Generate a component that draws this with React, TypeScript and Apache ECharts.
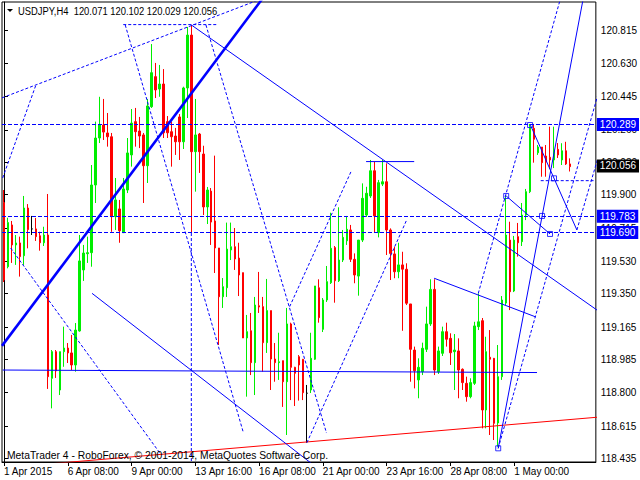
import React, { useEffect, useRef } from "react";
import * as echarts from "echarts";

const symbolName = "USDJPY,H4";
const copyright = "MetaTrader 4 - RoboForex, © 2001-2014, MetaQuotes Software Corp.";

const opens = [
  119.856, 119.5, 119.732, 119.621, 119.632, 119.561, 119.826, 119.71, 119.71, 119.672,
  119.633, 119.676, 118.88, 119.028, 118.815, 119.028, 119.048, 119.021, 118.954, 119.143,
  119.482, 119.572, 119.578, 119.954, 120.215, 120.287, 120.243, 120.222, 119.778, 119.821,
  119.689, 119.926, 120.121, 120.306, 120.254, 120.232, 120.061, 120.389, 120.556, 120.487,
  120.515, 120.306, 120.25, 120.226, 120.332, 120.194, 120.493, 120.787, 120.139, 120.237,
  120.126, 119.832, 119.92, 119.754, 119.604, 119.333, 119.383, 119.593, 119.611, 119.548,
  119.467, 119.104, 119.144, 118.967, 119.283, 119.278, 119.078, 119.256, 118.987, 118.967,
  118.978, 118.861, 119.182, 118.941, 119.0, 118.986, 118.797, 118.815, 118.986, 119.383,
  119.152, 119.315, 119.411, 119.606, 119.422, 119.537, 119.644, 119.704, 119.541, 119.448,
  119.648, 119.787, 119.893, 120.033, 119.689, 119.959, 119.972, 119.704, 119.571, 119.472,
  119.51, 119.486, 119.293, 119.037, 118.871, 118.917, 119.041, 119.182, 119.374, 118.917,
  119.019, 119.139, 119.102, 119.028, 119.032, 118.93, 118.852, 118.778, 118.852, 119.167,
  119.2, 118.704, 118.997, 118.991, 118.632, 118.889, 119.298, 119.648, 119.365, 119.667,
  119.639, 119.787, 119.917, 120.269, 120.133, 120.165, 120.115, 120.108, 120.093, 120.152,
  120.093, 120.144, 120.071,
];
const highs = [
  119.926, 119.772, 119.754, 119.676, 119.667, 119.893, 119.848, 119.782, 119.771, 119.694,
  119.722, 119.904, 119.037, 119.037, 119.028, 119.167, 119.076, 119.121, 119.187, 119.676,
  119.621, 119.667, 120.065, 120.306, 120.444, 120.432, 120.354, 120.243, 119.993, 119.871,
  119.993, 120.215, 120.376, 120.382, 120.332, 120.243, 120.432, 120.737, 120.632, 120.621,
  120.598, 120.337, 120.306, 120.271, 120.348, 120.5, 120.832, 120.843, 120.432, 120.243,
  120.172, 119.943, 119.937, 120.117, 119.604, 119.437, 119.745, 119.745, 119.715, 119.633,
  119.467, 119.232, 119.243, 119.332, 119.471, 119.332, 119.432, 119.256, 119.076, 119.133,
  118.978, 119.271, 119.189, 118.944, 119.009, 118.986, 118.843, 119.133, 119.393, 119.43,
  119.326, 119.504, 119.8, 119.615, 119.83, 119.704, 119.782, 119.732, 119.574, 119.648,
  119.963, 119.944, 120.093, 120.083, 119.982, 120.093, 120.074, 119.713, 119.611, 119.633,
  119.583, 119.519, 119.293, 119.056, 118.991, 119.078, 119.278, 119.43, 119.43, 119.056,
  119.167, 119.189, 119.13, 119.126, 119.102, 118.935, 118.889, 118.88, 119.194, 119.352,
  119.215, 119.111, 119.148, 118.993, 119.065, 119.337, 119.893, 119.75, 119.671, 119.743,
  119.854, 119.932, 120.293, 120.293, 120.176, 120.165, 120.176, 120.278, 120.278, 120.187,
  120.186, 120.194, 120.102,
];
const lows = [
  119.415, 119.491, 119.521, 119.51, 119.445, 119.51, 119.602, 119.676, 119.643, 119.589,
  119.615, 118.821, 118.713, 118.882, 118.787, 118.944, 118.965, 118.926, 118.917, 119.139,
  119.421, 119.521, 119.5, 119.854, 120.187, 120.204, 120.167, 119.694, 119.704, 119.633,
  119.689, 119.909, 120.056, 120.167, 120.159, 119.854, 119.965, 120.382, 120.437, 120.444,
  120.215, 120.215, 120.056, 120.121, 120.093, 120.154, 120.326, 119.687, 119.917, 120.021,
  119.787, 119.737, 119.621, 119.465, 119.065, 119.271, 119.332, 119.537, 119.482, 119.337,
  119.104, 118.778, 118.898, 118.787, 119.243, 118.917, 119.021, 118.815, 118.861, 118.871,
  118.721, 118.565, 118.759, 118.726, 118.756, 118.759, 118.522, 118.798, 118.982, 119.189,
  119.137, 119.304, 119.404, 119.3, 119.415, 119.526, 119.621, 119.526, 119.408, 119.339,
  119.637, 119.776, 119.882, 119.689, 119.663, 119.948, 119.565, 119.426, 119.436, 119.436,
  119.144, 119.287, 118.861, 118.824, 118.769, 118.898, 119.026, 119.171, 118.898, 118.904,
  119.004, 119.056, 118.954, 118.815, 118.769, 118.815, 118.75, 118.769, 118.843, 119.148,
  118.602, 118.602, 118.565, 118.537, 118.5, 118.871, 119.287, 119.259, 119.359, 119.556,
  119.615, 119.759, 119.909, 120.078, 120.121, 120.0, 120.0, 120.043, 120.048, 120.104,
  120.065, 120.065, 120.029,
];
const closes = [
  119.426, 119.745, 119.621, 119.632, 119.556, 119.826, 119.706, 119.71, 119.667, 119.633,
  119.676, 118.889, 119.028, 118.921, 119.028, 119.048, 119.021, 118.954, 119.148, 119.532,
  119.576, 119.578, 119.954, 120.215, 120.287, 120.248, 120.222, 119.778, 119.871, 119.7,
  119.932, 120.132, 120.298, 120.25, 120.226, 120.061, 120.393, 120.578, 120.482, 120.515,
  120.244, 120.244, 120.222, 120.194, 120.194, 120.493, 120.787, 120.139, 120.232, 120.139,
  119.832, 119.926, 119.748, 119.604, 119.333, 119.389, 119.598, 119.611, 119.543, 119.454,
  119.104, 119.139, 118.967, 119.287, 119.276, 119.078, 119.256, 118.987, 118.967, 118.972,
  118.861, 119.182, 118.941, 118.908, 118.954, 118.8, 118.797, 118.991, 119.393, 119.217,
  119.315, 119.417, 119.602, 119.422, 119.537, 119.663, 119.708, 119.541, 119.454, 119.648,
  119.88, 119.908, 120.033, 119.782, 119.967, 119.972, 119.704, 119.574, 119.472, 119.51,
  119.486, 119.297, 119.041, 118.922, 118.941, 119.047, 119.182, 119.374, 118.926, 119.032,
  119.139, 119.097, 119.022, 119.037, 118.926, 118.856, 118.778, 118.856, 119.171, 119.194,
  118.704, 119.028, 118.986, 118.63, 118.889, 119.315, 119.676, 119.361, 119.648, 119.633,
  119.787, 119.917, 120.278, 120.208, 120.165, 120.078, 120.082, 120.093, 120.148, 120.121,
  120.144, 120.071, 120.056,
];

const slotCount = 149;
const xTickIndex = [0, 16, 32, 48, 64, 80, 96, 112, 128];
const xTickText = [
  "1 Apr 2015", "6 Apr 08:00", "9 Apr 00:00", "13 Apr 16:00", "16 Apr 08:00",
  "21 Apr 00:00", "23 Apr 16:00", "28 Apr 08:00", "1 May 00:00",
];
const priceTicks = [
  118.435, 118.615, 118.8, 118.985, 119.165, 119.35, 119.53, 119.715, 119.9,
  120.08, 120.26, 120.445, 120.63, 120.815,
];
const priceMin = 118.415;
const priceMax = 120.9706;
const levelLines = [120.289, 119.783, 119.69];
const lastPrice = 120.056;

// drawing objects: [barIndex, price] pairs
const thickLine = [[-0.5, 119.06], [67, 121.053]];
const solidLines = [
  [[47, 120.843], [149.5, 119.248]],
  [[-0.33, 118.926], [133.74, 118.912]],
  [[22.09, 119.352], [80, 118.358]],
  [[90.85, 120.084], [102.92, 120.084]],
  [[107.92, 119.436], [133.42, 119.221]],
  [[126, 119.893], [137, 119.682]],
  [[132.09, 120.287], [143.74, 119.704]],
  [[124, 118.491], [146, 121.068]],
];
const dashedLines = [
  [[-0.5, 120.438], [66, 121.0]],
  [[-0.33, 119.993], [7.92, 120.504]],
  [[30.42, 120.843], [60, 118.583]],
  [[1.67, 119.604], [39.17, 118.463]],
  [[50.67, 120.843], [80.92, 118.576]],
  [[71.67, 119.278], [87.17, 120.033]],
  [[76, 118.522], [100.92, 119.754]],
  [[29.92, 120.845], [53.42, 120.845]],
  [[119, 119.352], [141, 121.099]],
  [[124, 118.491], [149.5, 120.494]],
  [[143.74, 119.704], [149.5, 120.141]],
  [[134.67, 119.978], [147.92, 119.978]],
  [[47, 119.687], [47, 118.3]],
];
const redLine = [[10, 118.402], [149.5, 118.665]];
const anchors = [
  [124, 118.491], [126, 119.893], [132, 120.287], [135, 119.782], [137, 119.682], [138, 119.991],
];

const FONT = "'Liberation Sans', Arial, sans-serif";
const AXIS_FONT_SIZE = 10;
const BLUE = "#0000ff";
const UP = "#00ee00";
const DOWN = "#ff0000";

function buildOption() {
  const categories = Array.from({ length: slotCount }, (_, i) => String(i));
  const candleData: any[] = opens.map((o, i) => {
    const c = closes[i];
    const item: any = { value: [o, c, lows[i], highs[i]] };
    if (o === c) {
      item.itemStyle = { color: "#000", color0: "#000", borderColor: "#000", borderColor0: "#000" };
    }
    return item;
  });
  const last = opens.length - 1;
  const title = `${symbolName}  ${opens[last].toFixed(3)} ${highs[last].toFixed(3)} ${lows[last].toFixed(3)} ${closes[last].toFixed(3)}`;

  const lineSeries = (data: number[][], color: string, width: number, type: any) => ({
    type: "line",
    xAxisIndex: 1,
    yAxisIndex: 0,
    data,
    symbol: "none",
    silent: true,
    clip: true,
    z: 3,
    lineStyle: { color, width, type },
  });

  const boxLabel = (v: number, bg: string) => ({
    show: true,
    position: "end",
    distance: 1,
    formatter: v.toFixed(3),
    backgroundColor: bg,
    color: "#fff",
    fontFamily: FONT,
    fontSize: AXIS_FONT_SIZE,
    lineHeight: 11,
    padding: [1, 3, 1, 3],
  });

  const series: any[] = [
    {
      type: "candlestick",
      xAxisIndex: 0,
      yAxisIndex: 0,
      data: candleData,
      barWidth: 2,
      silent: true,
      z: 2,
      itemStyle: {
        color: UP,
        color0: DOWN,
        borderColor: UP,
        borderColor0: DOWN,
        borderWidth: 1,
      },
    },
    lineSeries(redLine, "#ff0000", 1, "solid"),
    ...dashedLines.map((d) => lineSeries(d, BLUE, 1, [3, 2])),
    ...solidLines.map((d) => lineSeries(d, BLUE, 1, "solid")),
    lineSeries(thickLine, BLUE, 2.6, "solid"),
    {
      type: "scatter",
      xAxisIndex: 1,
      yAxisIndex: 0,
      data: anchors,
      symbol: "rect",
      symbolSize: 5,
      silent: true,
      z: 4,
      itemStyle: { color: "rgba(255,255,255,0)", borderColor: BLUE, borderWidth: 1 },
    },
    {
      type: "line",
      xAxisIndex: 1,
      yAxisIndex: 0,
      data: [],
      clip: false,
      z: 5,
      markLine: {
        symbol: "none",
        silent: true,
        animation: false,
        data: [
          ...levelLines.map((v) => ({
            yAxis: v,
            lineStyle: { color: BLUE, width: 1, type: [4, 2] },
            label: boxLabel(v, BLUE),
          })),
          {
            yAxis: lastPrice,
            lineStyle: { color: "rgba(0,0,0,0)", width: 1, type: "solid" },
            label: boxLabel(lastPrice, "#000"),
          },
        ],
      },
    },
  ];

  const isTick = (i: number) => xTickIndex.indexOf(i) >= 0;

  return {
    animation: false,
    backgroundColor: "#fff",
    grid: {
      left: 2,
      right: 43,
      top: 2,
      bottom: 18,
      show: true,
      borderColor: "#000",
      borderWidth: 1,
      backgroundColor: "#fff",
    },
    xAxis: [
      {
        type: "category",
        data: categories,
        boundaryGap: true,
        axisLine: { show: true, lineStyle: { color: "#000", width: 1 } },
        axisTick: {
          show: true,
          alignWithLabel: true,
          length: 4,
          interval: (i: number) => isTick(i),
          lineStyle: { color: "#000" },
        },
        axisLabel: {
          show: true,
          interval: (i: number) => isTick(i),
          formatter: (_v: string, i: number) => {
            const k = xTickIndex.indexOf(i);
            return k >= 0 ? xTickText[k] : "";
          },
          align: "left",
          margin: 4,
          color: "#000",
          fontFamily: FONT,
          fontSize: AXIS_FONT_SIZE,
        },
        splitLine: { show: false },
      },
      {
        type: "value",
        min: -0.5,
        max: slotCount - 0.5,
        show: false,
        splitLine: { show: false },
      },
    ],
    yAxis: {
      type: "value",
      position: "right",
      min: priceMin,
      max: priceMax,
      scale: true,
      axisLine: { show: true, lineStyle: { color: "#000", width: 1 } },
      axisTick: {
        show: true,
        length: 4,
        lineStyle: { color: "#000" },
        customValues: priceTicks,
      },
      axisLabel: {
        show: true,
        customValues: priceTicks,
        formatter: (v: number) => v.toFixed(3),
        margin: 5,
        color: "#000",
        fontFamily: FONT,
        fontSize: AXIS_FONT_SIZE,
      },
      splitLine: { show: false },
    },
    graphic: [
      {
        type: "polygon",
        shape: { points: [[7, 9], [13, 9], [10, 12]] },
        style: { fill: "#000" },
        z: 10,
      },
      {
        type: "text",
        x: 18,
        y: 11,
        scaleX: 0.855,
        z: 10,
        style: {
          text: title,
          fill: "#000",
          font: `11px ${FONT}`,
          verticalAlign: "middle",
        },
      },
      {
        type: "text",
        x: 7,
        y: 455,
        scaleX: 0.94,
        z: 10,
        style: {
          text: copyright,
          fill: "#000",
          font: `11px ${FONT}`,
          verticalAlign: "middle",
        },
      },
    ],
    series,
  };
}

export default function App() {
  const ref = useRef<HTMLDivElement>(null);
  useEffect(() => {
    if (!ref.current) return;
    const chart = echarts.init(ref.current, null, { renderer: "svg" });
    chart.setOption(buildOption() as any);
    return () => chart.dispose();
  }, []);
  return (
    <div
      ref={ref}
      style={{ position: "fixed", left: 0, top: 0, width: 640, height: 480, background: "#fff" }}
    />
  );
}
